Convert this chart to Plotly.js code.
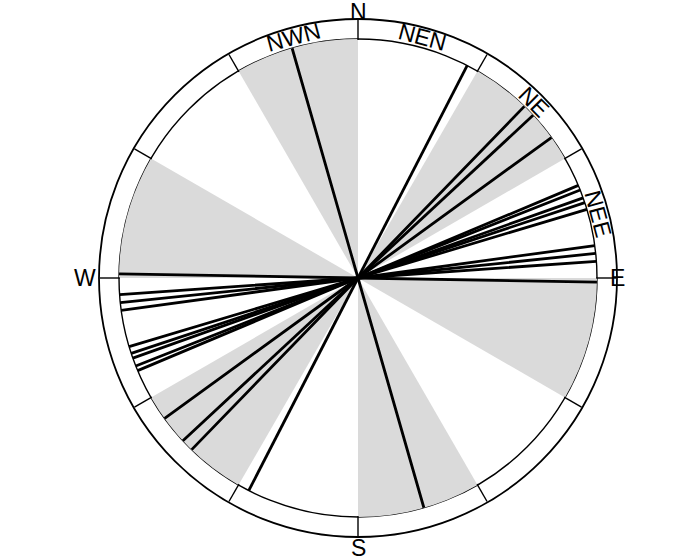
<!DOCTYPE html>
<html>
<head>
<meta charset="utf-8">
<script src="https://cdn.plot.ly/plotly-3.0.1.min.js"></script>
<style>
	body { margin: 0; background: #fff; }
	#rose { width: 700px; height: 560px; }
</style>
</head>
<body>
<div id="rose"></div>
<script>
// strike directions (deg from N, clockwise), each drawn as a full diameter
var strikeAngles = [27.2, 44.1, 47.1, 54.0, 67.2, 68.4, 70.4, 71.6, 73.3, 82.2, 84.1, 86.0, 91.0, 164.0];

// shaded 30 deg sectors (centres)
var sectorCenters = [45, 105, 165, 225, 285, 345];
var sectorWidth = 30;

// ring divisions
var ringTicks = [0, 30, 60, 90, 120, 150, 180, 210, 240, 270, 300, 330];

// labels: inside the ring and at the cardinal points
var ringLabels = ['NWN', 'NEN', 'NE', 'NEE'];
var ringLabelAngles = [345, 15, 45, 75];
var cardLabels = ['N', 'E', 'S', 'W'];
var cardLabelAngles = [0, 90, 180, 270];

var W = 700, H = 560;
var cx = 358, cy = 278;   // centre in px
var rOuter = 259, rInner = 239;
var cardRadius = [266, 259, 270, 273];

function toPaper(theta, r) {
	var t = theta * Math.PI / 180;
	return {
		x : (cx + r * Math.sin(t)) / W,
		y : (H - (cy - r * Math.cos(t))) / H
	};
}

var data = [];

data.push({
	type : 'barpolar',
	theta : sectorCenters,
	r : sectorCenters.map(function() { return rInner; }),
	width : sectorCenters.map(function() { return sectorWidth; }),
	marker : {
		color : '#dadada',
		line : { width : 0 }
	},
	hoverinfo : 'skip'
});

var lr = [], lt = [];
for (var i = 0; i < strikeAngles.length; i++) {
	lr.push(rInner, 0, rInner, null);
	lt.push(strikeAngles[i], strikeAngles[i], strikeAngles[i] + 180, null);
}
data.push({
	type : 'scatterpolar',
	mode : 'lines',
	r : lr,
	theta : lt,
	line : { color : '#000', width : 2.8 },
	connectgaps : false,
	hoverinfo : 'skip'
});

var fontFam = 'Liberation Sans, Arial, sans-serif';
var annotations = [];
for (var k = 0; k < ringLabels.length; k++) {
	var p = toPaper(ringLabelAngles[k], (rOuter + rInner) / 2);
	annotations.push({
		xref : 'paper', yref : 'paper',
		x : p.x, y : p.y,
		xanchor : 'center', yanchor : 'middle',
		text : ringLabels[k],
		textangle : ringLabelAngles[k] > 180 ? ringLabelAngles[k] - 360 : ringLabelAngles[k],
		showarrow : false,
		font : { family : fontFam, size : 23, color : '#000' }
	});
}
for (var m = 0; m < cardLabels.length; m++) {
	var q = toPaper(cardLabelAngles[m], cardRadius[m]);
	annotations.push({
		xref : 'paper', yref : 'paper',
		x : q.x, y : q.y,
		xanchor : 'center', yanchor : 'middle',
		text : cardLabels[m],
		showarrow : false,
		font : { family : fontFam, size : 23, color : '#000' }
	});
}

var layout = {
	width : W,
	height : H,
	autosize : false,
	showlegend : false,
	paper_bgcolor : '#fff',
	margin : { l : 0, r : 0, t : 0, b : 0, pad : 0 },
	polar : {
		domain : {
			x : [(cx - rOuter) / W, (cx + rOuter) / W],
			y : [(H - cy - rOuter) / H, (H - cy + rOuter) / H]
		},
		bgcolor : '#fff',
		bargap : 0,
		radialaxis : {
			range : [0, rOuter],
			tickvals : [rInner],
			showticklabels : false,
			ticks : '',
			showline : false,
			showgrid : true,
			gridcolor : '#000',
			gridwidth : 1.4
		},
		angularaxis : {
			rotation : 90,
			direction : 'clockwise',
			tickvals : ringTicks,
			showticklabels : false,
			ticks : 'inside',
			ticklen : rOuter - rInner,
			tickwidth : 1.4,
			tickcolor : '#000',
			showgrid : false,
			showline : true,
			linecolor : '#000',
			linewidth : 1.8
		}
	},
	annotations : annotations
};

Plotly.newPlot('rose', data, layout, { displayModeBar : false, staticPlot : true });
</script>
</body>
</html>
